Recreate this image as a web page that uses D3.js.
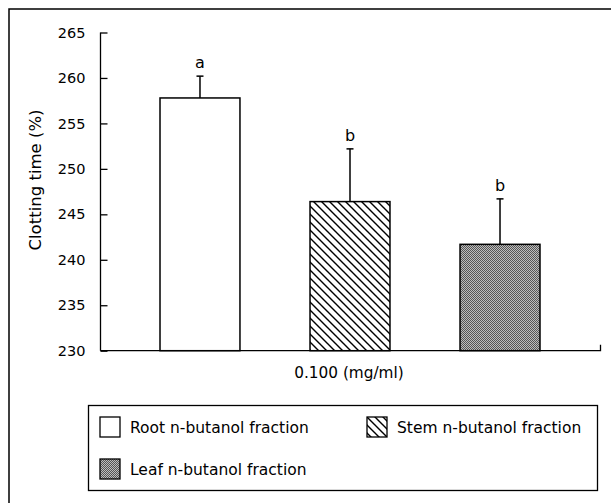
<!DOCTYPE html>
<html lang='en'>

<head>
    <meta charset='utf-8'>
    <title>Clotting time</title>
    <style>
        body {
            margin: 0;
            background-color: white;
        }

        svg {
            display: block;
            font-family: 'DejaVu Sans', sans-serif;
        }
    </style>
    <script src='https://d3js.org/d3.v7.min.js' charset='utf-8'></script>
</head>

<body>
    <div id='placeholder'></div>
    <script type="text/javascript">
        const WIDTH = 611;
        const HEIGHT = 503;

        var categories = ['Root n-butanol fraction', 'Stem n-butanol fraction', 'Leaf n-butanol fraction'];
        var means = [257.8, 246.4, 241.7];
        var errors = [2.4, 5.8, 5.0];
        var letters = ['a', 'b', 'b'];
        var fills = ['white', 'url(#hatch)', 'url(#dots)'];
        var yTicks = [230, 235, 240, 245, 250, 255, 260, 265];
        var xLabel = '0.100 (mg/ml)';
        var yLabel = 'Clotting time (%)';

        var svg = d3.select('#placeholder')
            .append('svg')
            .attr('width', WIDTH)
            .attr('height', HEIGHT);

        // patterns
        var defs = svg.append('defs');
        var hatch = defs.append('pattern')
            .attr('id', 'hatch')
            .attr('patternUnits', 'userSpaceOnUse')
            .attr('width', 8)
            .attr('height', 8);
        hatch.append('rect').attr('width', 8).attr('height', 8).attr('fill', 'white');
        hatch.append('path')
            .attr('d', 'M-2,-2 L10,10 M-2,6 L2,10 M6,-2 L10,2')
            .attr('stroke', 'black')
            .attr('stroke-width', 1.4);

        var dots = defs.append('pattern')
            .attr('id', 'dots')
            .attr('patternUnits', 'userSpaceOnUse')
            .attr('width', 2)
            .attr('height', 2);
        dots.append('rect').attr('width', 2).attr('height', 2).attr('fill', '#bdbdbd');
        dots.append('rect').attr('width', 1).attr('height', 1).attr('fill', '#555');
        dots.append('rect').attr('x', 1).attr('y', 1).attr('width', 1).attr('height', 1).attr('fill', '#555');

        // frame (scanned border, top and left only)
        svg.append('path')
            .attr('d', 'M9,503 L9,9 L611,9')
            .attr('fill', 'none')
            .attr('stroke', 'black')
            .attr('stroke-width', 1.5);

        var x = d3.scaleBand()
            .domain(categories)
            .range([100, 600])
            .paddingInner(0.467)
            .paddingOuter(0.4);

        var y = d3.scaleLinear()
            .domain([230, 265])
            .range([350.7, 32.5]);

        var data = categories.map(function (c, i) {
            return { 'name': c, 'mean': means[i], 'err': errors[i], 'letter': letters[i], 'fill': fills[i] };
        });

        // y axis with inward ticks
        var yAxis = svg.append('g')
            .attr('transform', 'translate(100.5,0)')
            .call(d3.axisRight(y).tickValues(yTicks).tickSize(7).tickFormat(d3.format('d')));
        yAxis.select('.domain').attr('stroke-width', 1.3).attr('d', 'M0,' + y(265) + 'V' + y(230));
        yAxis.selectAll('.tick line').attr('stroke-width', 1.3);
        yAxis.selectAll('.tick text')
            .attr('x', -15)
            .attr('text-anchor', 'end')
            .attr('font-size', 14.5)
            .attr('font-family', "'DejaVu Sans', sans-serif")
            .attr('fill', 'black');

        svg.append('text')
            .attr('transform', 'translate(41,180) rotate(-90)')
            .attr('text-anchor', 'middle')
            .attr('font-size', 16.5)
            .text(yLabel);

        // bars
        svg.selectAll('rect.bar')
            .data(data)
            .enter()
            .append('rect')
            .attr('class', 'bar')
            .attr('x', function (d) { return x(d.name); })
            .attr('y', function (d) { return y(d.mean); })
            .attr('width', x.bandwidth())
            .attr('height', function (d) { return y(230) - y(d.mean); })
            .attr('fill', function (d) { return d.fill; })
            .attr('stroke', 'black')
            .attr('stroke-width', 1.5);

        // error bars
        var eb = svg.selectAll('g.err')
            .data(data)
            .enter()
            .append('g')
            .attr('class', 'err');
        eb.append('line')
            .attr('x1', function (d) { return x(d.name) + x.bandwidth() / 2; })
            .attr('x2', function (d) { return x(d.name) + x.bandwidth() / 2; })
            .attr('y1', function (d) { return y(d.mean); })
            .attr('y2', function (d) { return y(d.mean + d.err); })
            .attr('stroke', 'black')
            .attr('stroke-width', 1.5);
        eb.append('line')
            .attr('x1', function (d) { return x(d.name) + x.bandwidth() / 2 - 3.5; })
            .attr('x2', function (d) { return x(d.name) + x.bandwidth() / 2 + 3.5; })
            .attr('y1', function (d) { return y(d.mean + d.err); })
            .attr('y2', function (d) { return y(d.mean + d.err); })
            .attr('stroke', 'black')
            .attr('stroke-width', 1.5);
        eb.append('text')
            .attr('x', function (d) { return x(d.name) + x.bandwidth() / 2; })
            .attr('y', function (d) { return y(d.mean + d.err) - 8; })
            .attr('text-anchor', 'middle')
            .attr('font-size', 16)
            .text(function (d) { return d.letter; });

        // x axis line with small end tick
        svg.append('path')
            .attr('d', 'M100.5,' + y(230) + 'H600.5V' + (y(230) - 6))
            .attr('fill', 'none')
            .attr('stroke', 'black')
            .attr('stroke-width', 1.3);

        svg.append('text')
            .attr('x', 349)
            .attr('y', 378)
            .attr('text-anchor', 'middle')
            .attr('font-size', 15.3)
            .text(xLabel);

        // legend
        svg.append('rect')
            .attr('x', 88.5)
            .attr('y', 405.5)
            .attr('width', 509)
            .attr('height', 85)
            .attr('fill', 'white')
            .attr('stroke', 'black')
            .attr('stroke-width', 1.3);

        var legendPos = [[100, 417], [367, 417], [100, 459]];
        var legend = svg.selectAll('g.legend')
            .data(data)
            .enter()
            .append('g')
            .attr('class', 'legend')
            .attr('transform', function (d, i) { return 'translate(' + legendPos[i][0] + ',' + legendPos[i][1] + ')'; });
        legend.append('rect')
            .attr('width', 20)
            .attr('height', 20)
            .attr('fill', function (d) { return d.fill; })
            .attr('stroke', 'black')
            .attr('stroke-width', 1.3);
        legend.append('text')
            .attr('x', 30)
            .attr('y', 16)
            .attr('font-size', 15.5)
            .text(function (d) { return d.name; });
    </script>
</body>

</html>
